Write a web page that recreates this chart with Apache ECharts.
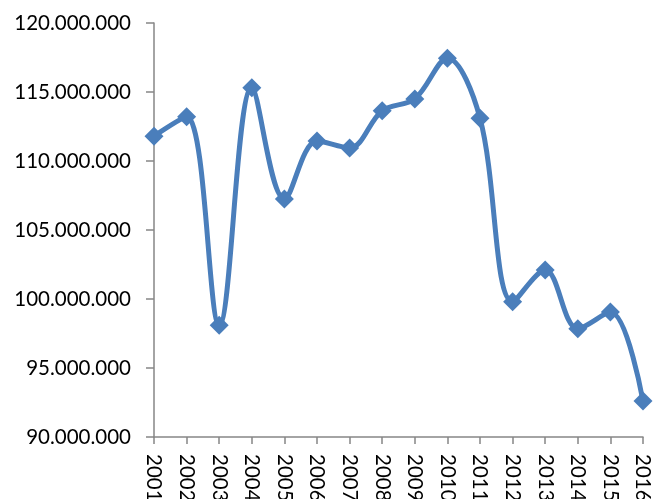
<!DOCTYPE html>
<html>
<head>
<meta charset="utf-8">
<script src="https://cdn.jsdelivr.net/npm/echarts@6/dist/echarts.min.js"></script>
<style>
html,body{margin:0;padding:0;background:#fff;}
#c{width:654px;height:499px;}
</style>
</head>
<body>
<div id="c"></div>
<script>
const years = ['2001','2002','2003','2004','2005','2006','2007','2008','2009','2010','2011','2012','2013','2014','2015','2016'];
const values = [111800000, 113200000, 98100000, 115300000, 107250000, 111450000, 110950000, 113650000, 114500000, 117450000, 113100000, 99800000, 102100000, 97850000, 99050000, 92600000];

function fmt(v){
  return String(Math.round(v)).replace(/\B(?=(\d{3})+(?!\d))/g, '.');
}

const chart = echarts.init(document.getElementById('c'), null, {renderer:'canvas'});
chart.setOption({
  animation:false,
  grid:{left:154, right:11, top:23, bottom:62, containLabel:false, outerBoundsMode:'none'},
  xAxis:{
    type:'category',
    data:years,
    boundaryGap:false,
    axisLine:{lineStyle:{color:'#868686', width:1.5}},
    axisTick:{show:true, alignWithLabel:true, length:7, lineStyle:{color:'#868686', width:1.5}},
    axisLabel:{rotate:-90, interval:0, color:'#000', fontSize:20.5, fontFamily:'Lato, "Open Sans", sans-serif', margin:17}
  },
  yAxis:{
    type:'value',
    min:90000000, max:120000000, interval:5000000,
    splitLine:{show:false},
    axisLine:{show:true, lineStyle:{color:'#868686', width:1.5}},
    axisTick:{show:true, length:8, lineStyle:{color:'#868686', width:1.5}},
    axisLabel:{color:'#000', fontSize:20.5, fontFamily:'Lato, "Open Sans", sans-serif', margin:23, formatter:fmt}
  },
  series:[{
    type:'line',
    data:values,
    smooth:0.35,
    symbol:'diamond',
    symbolSize:19,
    lineStyle:{color:'#4a7ebb', width:5},
    itemStyle:{color:'#4a7ebb'}
  }]
});
</script>
</body>
</html>
